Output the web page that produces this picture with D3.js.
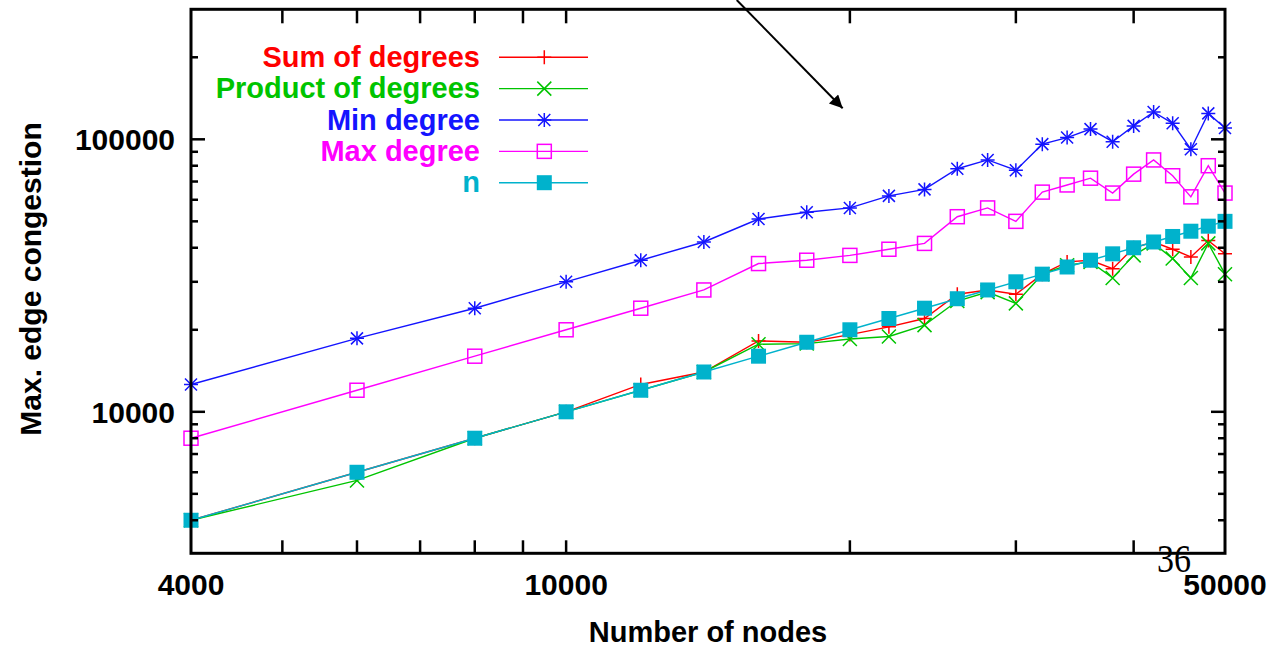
<!DOCTYPE html>
<html><head><meta charset="utf-8">
<script src="https://cdn.jsdelivr.net/npm/d3@7"></script>
<style>body{margin:0;background:#fff}svg{display:block}text.b{font-family:"Liberation Sans",Arial,sans-serif;font-weight:bold}text.s{font-family:"Liberation Serif","Times New Roman",serif;font-weight:normal}</style>
</head><body>
<svg id="c" width="1270" height="647"></svg>
<script>
// ---- data ----
const nodes = [4000,6000,8000,10000,12000,14000,16000,18000,20000,22000,24000,26000,28000,30000,32000,34000,36000,38000,40000,42000,44000,46000,48000,50000];
const sumDegrees = [4000,6000,8000,10000,12600,14000,18200,18000,19200,20500,22000,27000,28000,27000,32000,35500,36000,33500,40000,42000,39500,37000,42500,38000];
const productDegrees = [4000,5600,8000,10000,12000,14000,17700,17800,18500,18900,20800,25500,27500,25000,32000,34500,35500,31000,37500,41500,36500,31000,41500,32000];
const minDegree = [12600,18600,24000,30000,36000,42000,51000,54000,56000,62000,65500,78000,84000,77000,96000,101500,109000,98000,112000,126000,114500,92000,124500,110000];
const maxDegree = [8000,12000,16000,20000,24000,28000,35000,36000,37500,39500,41500,52000,56000,50000,64000,68000,72000,63500,74500,84000,73500,61500,80000,63500];
const nSeries = [4000,6000,8000,10000,12000,14000,16000,18000,20000,22000,24000,26000,28000,30000,32000,34000,36000,38000,40000,42000,44000,46000,48000,50000];

const seriesNames = ["Sum of degrees","Product of degrees","Min degree","Max degree","n"];
const xTickLabels = [4000,10000,50000];
const xMinorTicks = [5000,6000,7000,8000,9000,10000,20000,30000,40000];
const yTickLabels = [10000,100000];
const yMinorTicks = [4000,5000,6000,7000,8000,9000,20000,30000,40000,50000,60000,70000,80000,90000,200000];
const xDomain = [4000,50000];
const yDomain = [3000,300000];
const arrowFrom = [15170,324500];
const arrowTo = [19650,129950];

// ---- drawing ----
const svg = d3.select("#c");
svg.append("rect").attr("width",1270).attr("height",647).attr("fill","#fff");
const L = 191, R = 1225, T = 9.3, B = 554.3;
const x = d3.scaleLog().domain(xDomain).range([L,R]);
const y = d3.scaleLog().domain(yDomain).range([B,T]);

const series = [
  {name:seriesNames[0], vals:sumDegrees, color:"#ff0000", mark:"plus"},
  {name:seriesNames[1], vals:productDegrees, color:"#00c400", mark:"cross"},
  {name:seriesNames[2], vals:minDegree, color:"#1414ff", mark:"star"},
  {name:seriesNames[3], vals:maxDegree, color:"#ff00ff", mark:"box"},
  {name:seriesNames[4], vals:nSeries, color:"#00b2cc", mark:"fbox"}
];

function marker(g, type, cx, cy, color){
  const h = 7;
  if(type==="plus"||type==="star"){
    g.append("path").attr("d",`M${cx-h},${cy}H${cx+h}M${cx},${cy-h}V${cy+h}`).attr("stroke",color).attr("stroke-width",1.5).attr("fill","none");
  }
  if(type==="cross"||type==="star"){
    const k = type==="star"?6:7;
    g.append("path").attr("d",`M${cx-k},${cy-k}L${cx+k},${cy+k}M${cx-k},${cy+k}L${cx+k},${cy-k}`).attr("stroke",color).attr("stroke-width",1.5).attr("fill","none");
  }
  if(type==="box"){
    g.append("rect").attr("x",cx-7).attr("y",cy-7).attr("width",14).attr("height",14).attr("stroke",color).attr("stroke-width",1.5).attr("fill","none");
  }
  if(type==="fbox"){
    g.append("rect").attr("x",cx-7.5).attr("y",cy-7.5).attr("width",15).attr("height",15).attr("fill",color);
  }
}

const line = d3.line().x(d=>x(d[0])).y(d=>y(d[1]));
const plot = svg.append("g");
series.forEach(s=>{
  const g = plot.append("g");
  const pts = nodes.map((n,i)=>[n,s.vals[i]]);
  g.append("path").datum(pts).attr("d",line).attr("fill","none").attr("stroke",s.color).attr("stroke-width",1.4);
  pts.forEach(p=>marker(g,s.mark,x(p[0]),y(p[1]),s.color));
});

// legend
const lg = svg.append("g");
series.forEach((s,i)=>{
  const cy = 57.3 + i*31.35;
  lg.append("text").attr("class","b").attr("x",480).attr("y",cy+9.5).attr("text-anchor","end").attr("fill",s.color).attr("font-size",29).text(s.name);
  lg.append("line").attr("x1",499).attr("x2",588).attr("y1",cy).attr("y2",cy).attr("stroke",s.color).attr("stroke-width",1.4);
  marker(lg,s.mark,544.3,cy,s.color);
});

// axes frame and ticks
const ax = svg.append("g").attr("stroke","#000");
xMinorTicks.forEach(v=>{
  ax.append("line").attr("x1",x(v)).attr("x2",x(v)).attr("y1",B-1).attr("y2",B-14).attr("stroke-width",2.5);
  ax.append("line").attr("x1",x(v)).attr("x2",x(v)).attr("y1",T+1).attr("y2",T+14).attr("stroke-width",2.5);
});
yMinorTicks.forEach(v=>{
  ax.append("line").attr("x1",L).attr("x2",L+7).attr("y1",y(v)).attr("y2",y(v)).attr("stroke-width",2.5);
  ax.append("line").attr("x1",R).attr("x2",R-7).attr("y1",y(v)).attr("y2",y(v)).attr("stroke-width",2.5);
});
yTickLabels.forEach(v=>{
  ax.append("line").attr("x1",L).attr("x2",L+14).attr("y1",y(v)).attr("y2",y(v)).attr("stroke-width",2.5);
  ax.append("line").attr("x1",R).attr("x2",R-14).attr("y1",y(v)).attr("y2",y(v)).attr("stroke-width",2.5);
});
ax.append("rect").attr("x",L).attr("y",T).attr("width",R-L).attr("height",B-1-T).attr("fill","none").attr("stroke-width",3);

// tick labels
xTickLabels.forEach(v=>{
  svg.append("text").attr("class","b").attr("x",x(v)).attr("y",595).attr("text-anchor","middle").attr("font-size",30).attr("fill","#000").text(v);
});
yTickLabels.forEach(v=>{
  svg.append("text").attr("class","b").attr("x",175).attr("y",y(v)+11).attr("text-anchor","end").attr("font-size",30).attr("fill","#000").text(v);
});

// axis titles
svg.append("text").attr("class","b").attr("x",708).attr("y",642).attr("text-anchor","middle").attr("font-size",29).attr("fill","#000").text("Number of nodes");
svg.append("text").attr("class","b").attr("transform","translate(41,279) rotate(-90)").attr("text-anchor","middle").attr("font-size",30).attr("fill","#000").text("Max. edge congestion");

// arrow
const defs = svg.append("defs");
defs.append("marker").attr("id","ah").attr("viewBox","0 0 10 10").attr("refX",10).attr("refY",5)
  .attr("markerWidth",16).attr("markerHeight",13).attr("markerUnits","userSpaceOnUse").attr("orient","auto")
  .append("path").attr("d","M0,0L10,5L0,10z").attr("fill","#000");
svg.append("line").attr("x1",x(arrowFrom[0])).attr("y1",y(arrowFrom[1])).attr("x2",x(arrowTo[0])).attr("y2",y(arrowTo[1]))
  .attr("stroke","#000").attr("stroke-width",2).attr("marker-end","url(#ah)");

// page number
svg.append("text").attr("class","s").attr("x",1157).attr("y",572).attr("font-size",41)
  .attr("textLength",34).attr("lengthAdjust","spacingAndGlyphs").attr("fill","#000").text("36");
</script>
</body></html>
